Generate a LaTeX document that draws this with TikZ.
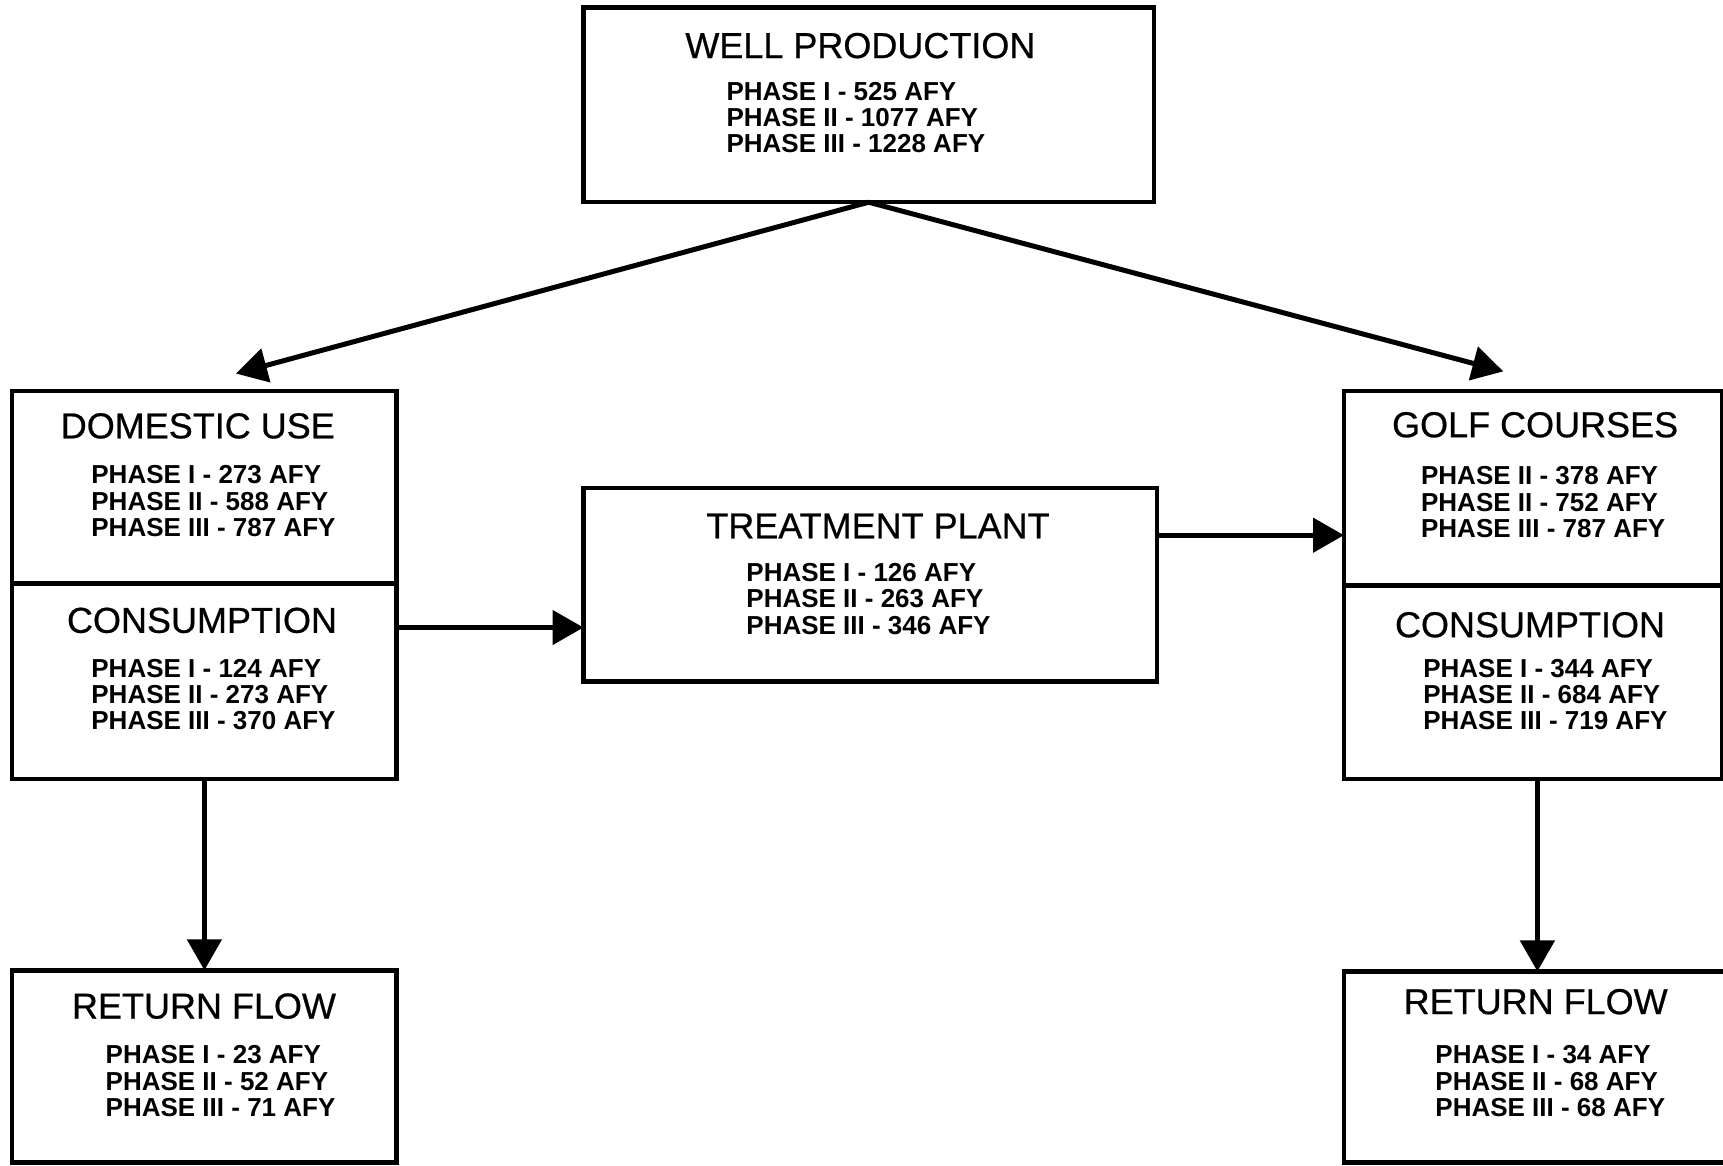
\documentclass[tikz,border=0pt]{standalone}
\usepackage{fontspec}
\setmainfont{Liberation Sans}
\newfontface\titlefont[FakeBold=0.6]{Liberation Sans}
\usetikzlibrary{arrows.meta}
\begin{document}
\begin{tikzpicture}[x=1pt,y=-1pt,
  box/.style={draw,line width=4.5pt,inner sep=0pt,outer sep=0pt,anchor=north west},
  title/.style={anchor=base,inner sep=0pt,font=\titlefont\fontsize{36}{40}\selectfont},
  lines/.style={anchor=north west,inner sep=0pt,align=left,font=\fontsize{26}{26.4}\selectfont\bfseries},
  arr/.style={line width=5pt,-{Triangle[length=31pt,width=34pt]}}]
\useasboundingbox (0,0) rectangle (1723,1165);
\clip (0,0) rectangle (1723,1165);
% boxes
\node[box,minimum width=570.3pt,minimum height=194.5pt] (well) at (583.5,7.7) {};
\node[box,minimum width=384.6pt,minimum height=192.3pt] (dom) at (12.1,391.2) {};
\node[box,minimum width=384.6pt,minimum height=195.6pt] (con) at (12.1,583.5) {};
\node[box,minimum width=573.6pt,minimum height=193.4pt] (tp) at (583.5,487.9) {};
\node[box,minimum width=378pt,minimum height=194.5pt] (golf) at (1344,391.2) {};
\node[box,minimum width=378pt,minimum height=193.4pt] (gcon) at (1344,585.7) {};
\node[box,minimum width=384.6pt,minimum height=192pt] (ret1) at (12.1,970.3) {};
\node[box,minimum width=381pt,minimum height=191pt] (ret2) at (1344,971.4) {};
% titles
\node[title] (wellT) at (860.4,58) {WELL PRODUCTION};
\node[title] (domT) at (197.8,438.3) {DOMESTIC USE};
\node[title] (conT) at (202,632.8) {CONSUMPTION};
\node[title] (tpT) at (878,538.3) {TREATMENT PLANT};
\node[title] (golfT) at (1535.1,437.2) {GOLF COURSES};
\node[title] (gconT) at (1530,637.2) {CONSUMPTION};
\node[title] (ret1T) at (204,1018.5) {RETURN FLOW};
\node[title] (ret2T) at (1535.7,1014.1) {RETURN FLOW};
% phase lines
\node[lines] (wellL) at (726.4,81.8) {PHASE I - 525 AFY\\PHASE II - 1077 AFY\\PHASE III - 1228 AFY};
\node[lines] (domL) at (91.2,465.3) {PHASE I - 273 AFY\\PHASE II - 588 AFY\\PHASE III - 787 AFY};
\node[lines] (conL) at (91.2,658.7) {PHASE I - 124 AFY\\PHASE II - 273 AFY\\PHASE III - 370 AFY};
\node[lines] (tpL) at (746.2,563.1) {PHASE I - 126 AFY\\PHASE II - 263 AFY\\PHASE III - 346 AFY};
\node[lines] (golfL) at (1420.9,466.4) {PHASE II - 378 AFY\\PHASE II - 752 AFY\\PHASE III - 787 AFY};
\node[lines] (gconL) at (1423.1,658.7) {PHASE I - 344 AFY\\PHASE II - 684 AFY\\PHASE III - 719 AFY};
\node[lines] (ret1L) at (105.5,1045.5) {PHASE I - 23 AFY\\PHASE II - 52 AFY\\PHASE III - 71 AFY};
\node[lines] (ret2L) at (1435.2,1045.5) {PHASE I - 34 AFY\\PHASE II - 68 AFY\\PHASE III - 68 AFY};
% connectors
\coordinate (tipL) at (236,373.6);
\coordinate (tipR) at (1503.3,371.4);
\draw[arr] (well.south) -- (tipL);
\draw[arr] (well.south) -- (tipR);
\coordinate (ya) at (0,627.5);
\draw[arr] (con.east |- ya) -- (tp.west |- ya);
\coordinate (yb) at (0,535.2);
\draw[arr] (tp.east |- yb) -- (golf.west |- yb);
\draw[arr] (con.south) -- (ret1.north);
\coordinate (xc) at (1537.4,0);
\draw[arr] (gcon.south -| xc) -- (ret2.north -| xc);
\end{tikzpicture}
\end{document}
